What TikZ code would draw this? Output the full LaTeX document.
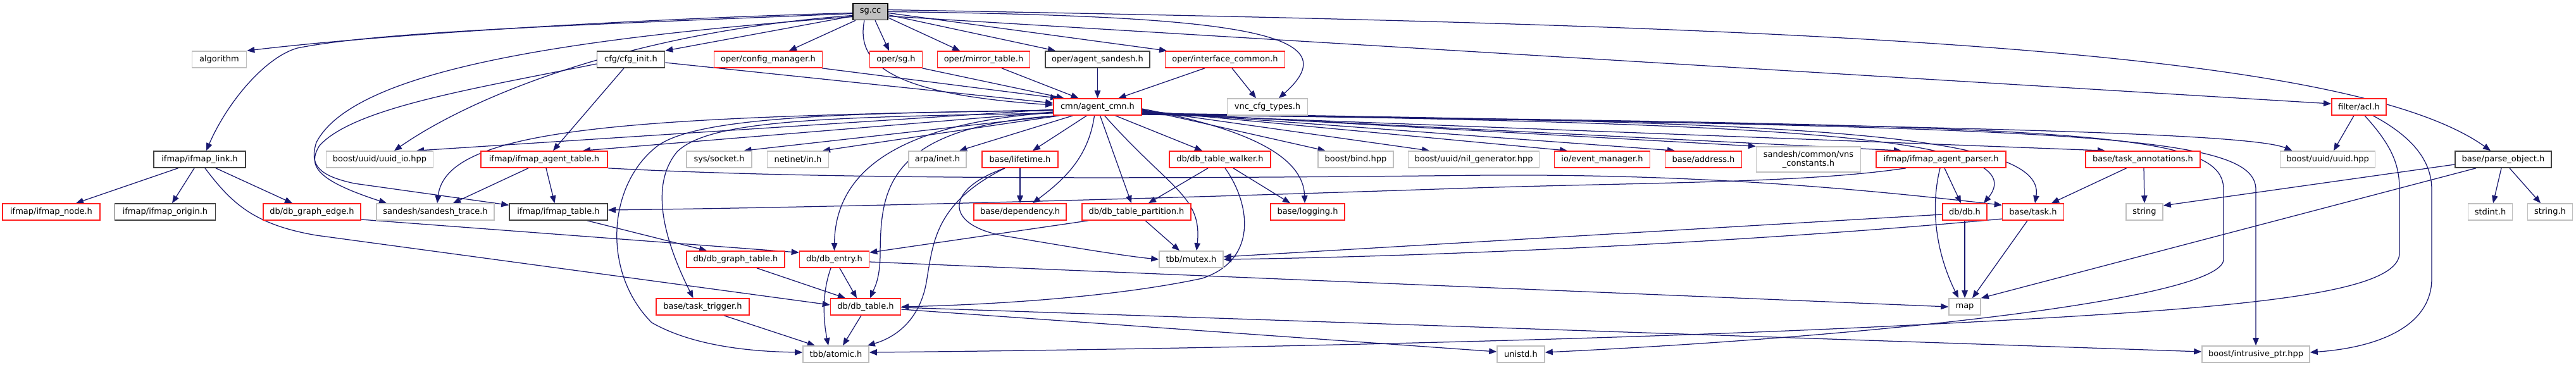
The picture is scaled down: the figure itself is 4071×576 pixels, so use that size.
\documentclass[tikz,border=0pt]{standalone}
\usepackage{fontspec}
\setmainfont{DejaVu Sans}
\usetikzlibrary{arrows.meta}
\definecolor{edgecol}{HTML}{191970}
\definecolor{grayb}{HTML}{BFBFBF}
\definecolor{redb}{HTML}{FF2020}
\definecolor{blackb}{HTML}{404040}
\pgfdeclarelayer{bg}
\pgfsetlayers{bg,main}
\begin{document}
\begin{tikzpicture}[x=1pt,y=-1pt,
 box/.style={draw, fill=white, inner sep=0pt, minimum height=26pt, line width=1.6pt, font=\fontsize{13}{14}\selectfont, text=black},
 rbox/.style={box, draw=redb},
 gbox/.style={box, draw=grayb},
 kbox/.style={box, draw=blackb},
 edge/.style={draw=edgecol, line width=1.25pt, -{Triangle[length=12pt,width=9.5pt]}}]
\useasboundingbox (0,0) rectangle (4071,576);
% row 1
\node[box, fill=grayb, draw=black, minimum width=55pt] (sg) at (1375.5,18.5) {sg.cc};
% row 2
\node[gbox, minimum width=86pt] (algorithm) at (346.5,94) {algorithm};
\node[kbox, minimum width=107pt] (cfginit) at (997,94) {cfg/cfg\_init.h};
\node[rbox, minimum width=171pt] (configmgr) at (1214,94) {oper/config\_manager.h};
\node[rbox, minimum width=83pt] (opersg) at (1416,94) {oper/sg.h};
\node[rbox, minimum width=146pt] (mirror) at (1554.5,94) {oper/mirror\_table.h};
\node[kbox, minimum width=165pt] (agentsandesh) at (1734.5,94) {oper/agent\_sandesh.h};
\node[rbox, minimum width=189pt] (intfcommon) at (1936,94) {oper/interface\_common.h};
% row 3
\node[rbox, minimum width=139pt] (cmn) at (1734.5,169) {cmn/agent\_cmn.h};
\node[gbox, minimum width=127pt] (vnc) at (2003,169) {vnc\_cfg\_types.h};
\node[rbox, minimum width=86.5pt] (acl) at (3728,169) {filter/acl.h};
% row 4
\node[kbox, minimum width=145pt] (ifmaplink) at (315.5,252) {ifmap/ifmap\_link.h};
\node[gbox, minimum width=169pt] (uuidio) at (600,252) {boost/uuid/uuid\_io.hpp};
\node[rbox, minimum width=200pt] (agenttable) at (860,252) {ifmap/ifmap\_agent\_table.h};
\node[gbox, minimum width=103pt] (socket) at (1136.5,252) {sys/socket.h};
\node[gbox, minimum width=97pt] (netinet) at (1261,252) {netinet/in.h};
\node[gbox, minimum width=91pt] (arpa) at (1481.5,252) {arpa/inet.h};
\node[rbox, minimum width=120pt] (lifetime) at (1612,252) {base/lifetime.h};
\node[rbox, minimum width=160pt] (walker) at (1928,252) {db/db\_table\_walker.h};
\node[gbox, minimum width=119pt] (bind) at (2142.5,252) {boost/bind.hpp};
\node[gbox, minimum width=207pt] (nilgen) at (2329,252) {boost/uuid/nil\_generator.hpp};
\node[rbox, minimum width=151pt] (eventmgr) at (2532,252) {io/event\_manager.h};
\node[rbox, minimum width=121pt] (address) at (2692,252) {base/address.h};
\node[gbox, minimum width=165pt, minimum height=40pt, align=center] (vnsconst) at (2858,252) {sandesh/common/vns\\\_constants.h};
\node[rbox, minimum width=205pt] (agentparser) at (3067.5,252) {ifmap/ifmap\_agent\_parser.h};
\node[rbox, minimum width=181pt] (taskannot) at (3386.5,252) {base/task\_annotations.h};
\node[gbox, minimum width=150pt] (uuidhpp) at (3678.5,252) {boost/uuid/uuid.hpp};
\node[kbox, minimum width=152pt] (parseobj) at (3956,252) {base/parse\_object.h};
% row 5
\node[rbox, minimum width=154pt] (ifmapnode) at (81,335) {ifmap/ifmap\_node.h};
\node[kbox, minimum width=159pt] (ifmaporigin) at (261,335) {ifmap/ifmap\_origin.h};
\node[rbox, minimum width=154pt] (graphedge) at (493,335) {db/db\_graph\_edge.h};
\node[gbox, minimum width=186pt] (sandeshtrace) at (688,335) {sandesh/sandesh\_trace.h};
\node[kbox, minimum width=155pt] (ifmaptable) at (882.5,335) {ifmap/ifmap\_table.h};
\node[rbox, minimum width=146pt] (dependency) at (1612,335) {base/dependency.h};
\node[rbox, minimum width=172pt] (partition) at (1796,335) {db/db\_table\_partition.h};
\node[rbox, minimum width=117pt] (logging) at (2066.5,335) {base/logging.h};
\node[rbox, minimum width=70pt] (dbh) at (3105,335) {db/db.h};
\node[rbox, minimum width=97pt] (taskh) at (3213,335) {base/task.h};
\node[gbox, minimum width=58pt] (string) at (3389,335) {string};
\node[gbox, minimum width=70pt] (stdint) at (3935.5,335) {stdint.h};
\node[gbox, minimum width=71pt] (stringh) at (4030,335) {string.h};
% row 6
\node[rbox, minimum width=155pt] (graphtable) at (1162.5,410) {db/db\_graph\_table.h};
\node[rbox, minimum width=110pt] (dbentry) at (1318.5,410) {db/db\_entry.h};
\node[gbox, minimum width=101pt] (mutex) at (1882.5,410) {tbb/mutex.h};
% row 7
\node[rbox, minimum width=147pt] (tasktrigger) at (1110.5,485) {base/task\_trigger.h};
\node[rbox, minimum width=111pt] (dbtable) at (1368,485) {db/db\_table.h};
\node[gbox, minimum width=50pt] (map) at (3105,485) {map};
% row 8
\node[gbox, minimum width=104pt] (atomic) at (1321,560) {tbb/atomic.h};
\node[gbox, minimum width=75pt] (unistd) at (2403.5,560) {unistd.h};
\node[gbox, minimum width=170pt] (intrusive) at (3565,560) {boost/intrusive\_ptr.hpp};

\begin{pgfonlayer}{bg}
\fill[white] (0,0) rectangle (4071,576);
% sg.cc
\draw[edge] ([yshift=-2pt]sg.west) .. controls (1000,30) and (600,55) .. (algorithm.north east);
\draw[edge] ([yshift=-3pt]sg.west) .. controls (900,40) and (600,50) .. (470,76) .. controls (420,90) and (360,160) .. ([xshift=10.5pt]ifmaplink.north);
\draw[edge] ([yshift=-7pt]sg.west) -- (cfginit.north east);
\draw[edge] ([xshift=-23.5pt]sg.south) -- ([xshift=33pt]configmgr.north);
\draw[edge] ([xshift=7.5pt]sg.south) -- ([xshift=-11pt]opersg.north);
\draw[edge] ([yshift=-9.5pt]sg.east) -- ([xshift=-37.5pt]mirror.north);
\draw[edge] ([yshift=-5pt]sg.east) -- ([xshift=-66.5pt]agentsandesh.north);
\draw[edge] ([yshift=-2pt]sg.east) -- ([xshift=-92pt]intfcommon.north);
\draw[edge] (sg.east) .. controls (1950,25) and (2140,50) .. ([xshift=18pt]vnc.north);
\draw[edge] ([xshift=-9.5pt]sg.south) .. controls (1350,110) and (1430,150) .. ([yshift=3pt]cmn.west);
\draw[edge] ([yshift=-6pt]sg.west) .. controls (1000,50) and (750,150) .. ([xshift=23pt]uuidio.north);
\draw[edge] ([yshift=-8pt]sg.west) .. controls (900,60) and (560,110) .. (500,225) .. controls (488,262) and (505,278) .. (560,290) -- ([yshift=-3pt]ifmaptable.north west);
\draw[edge] ([yshift=3pt]sg.east) .. controls (2800,40) and (3700,70) .. ([xshift=-20pt]parseobj.north);
\draw[edge] ([yshift=-7pt]sg.east) -- ([yshift=5pt]acl.west);
% cfg_init
\draw[edge] ([yshift=-5pt]cfginit.east) -- ([yshift=6pt]cmn.west);
\draw[edge] ([xshift=-11pt]cfginit.south) -- ([xshift=14pt]agenttable.north);
\draw[edge] ([yshift=-7pt]cfginit.west) .. controls (750,140) and (560,170) .. (505,230) .. controls (485,262) and (500,285) .. ([xshift=-77pt]sandeshtrace.north);
% into cmn
\draw[edge] ([xshift=85pt]configmgr.south) -- ([xshift=-62.5pt]cmn.north);
\draw[edge] ([xshift=41.5pt]opersg.south) -- ([xshift=-53pt]cmn.north);
\draw[edge] ([xshift=28.5pt]mirror.south) -- ([xshift=-30pt]cmn.north);
\draw[edge] (agentsandesh.south) -- (cmn.north);
\draw[edge] ([xshift=-32pt]intfcommon.south) -- ([xshift=33pt]cmn.north);
\draw[edge] ([xshift=11pt]intfcommon.south) -- ([xshift=-18pt]vnc.north);
% cmn left side
\draw[edge] ([yshift=-4pt]cmn.west) -- ([xshift=58pt]uuidio.north);
\draw[edge] ([yshift=-5pt]cmn.west) .. controls (1000,185) and (705,200) .. ([xshift=3pt]sandeshtrace.north);
\draw[edge] ([yshift=-8pt]cmn.west) -- ([xshift=61pt]agenttable.north);
\draw[edge] ([xshift=-65pt]cmn.south) -- ([xshift=39pt]socket.north);
\draw[edge] ([xshift=-60pt]cmn.south) -- ([xshift=39pt]netinet.north);
\draw[edge] ([xshift=-39pt]cmn.south) -- ([xshift=34.5pt]arpa.north);
\draw[edge] ([xshift=-17pt]cmn.south) -- ([xshift=20pt]lifetime.north);
\draw[edge] ([xshift=-5pt]cmn.south) .. controls (1720,250) and (1680,285) .. ([xshift=20pt]dependency.north);
\draw[edge] ([xshift=4pt]cmn.south) -- ([xshift=-8pt]partition.north);
\draw[edge] ([xshift=11pt]cmn.south) .. controls (1850,300) and (1900,310) .. ([xshift=8.5pt]mutex.north);
\draw[edge] ([xshift=28pt]cmn.south) -- ([xshift=-28pt]walker.north);
\draw[edge] ([yshift=-9pt]cmn.west) .. controls (1420,195) and (1320,270) .. (dbentry.north);
\draw[edge] ([xshift=-62pt]cmn.south) .. controls (1400,200) and (1392,300) .. (1391,400) .. controls (1391,440) and (1382,455) .. ([xshift=7pt]dbtable.north);
\draw[edge] ([yshift=-10pt]cmn.west) .. controls (1300,185) and (1120,190) .. (1070,240) .. controls (1020,300) and (1060,400) .. ([xshift=-15pt]tasktrigger.north);
\draw[edge] ([yshift=-6pt]cmn.west) .. controls (1300,178) and (1100,188) .. (1040,230) .. controls (960,290) and (950,430) .. (1030,510) .. controls (1100,550) and (1200,556) .. ([yshift=3pt]atomic.west);
% cmn right side
\draw[edge] ([yshift=-3pt]cmn.east) .. controls (1980,205) and (2060,250) .. ([xshift=-4.5pt]logging.north);
\draw[edge] ([yshift=-4pt]cmn.east) -- ([xshift=-48pt]bind.north);
\draw[edge] ([yshift=-5pt]cmn.east) -- ([xshift=-70pt]nilgen.north);
\draw[edge] ([yshift=-6pt]cmn.east) -- ([xshift=-55pt]eventmgr.north);
\draw[edge] ([yshift=-7pt]cmn.east) -- ([xshift=-45pt]address.north);
\draw[edge] ([yshift=-8pt]cmn.east) -- (vnsconst.north west);
\draw[edge] ([yshift=-9pt]cmn.east) -- ([xshift=-62.5pt]agentparser.north);
\draw[edge] ([yshift=-10pt]cmn.east) .. controls (2700,195) and (3230,205) .. ([xshift=30pt]dbh.north);
\draw[edge] ([yshift=-10pt]cmn.east) .. controls (2800,192) and (3235,205) .. ([xshift=3pt]taskh.north);
\draw[edge] ([yshift=-11pt]cmn.east) -- ([xshift=-59.5pt]taskannot.north);
\draw[edge] ([yshift=-11pt]cmn.east) .. controls (3000,198) and (3550,208) .. ([xshift=-56pt]uuidhpp.north);
\draw[edge] ([yshift=-12pt]cmn.east) .. controls (3300,200) and (3565,212) .. (3565,300) -- (intrusive.north);
\draw[edge] ([yshift=-12pt]cmn.east) .. controls (3300,198) and (3514,205) .. (3514,300) -- (3514,410) .. controls (3514,470) and (3000,530) .. ([yshift=3pt]unistd.east);
% acl
\draw[edge] ([xshift=-8pt]acl.south) -- ([xshift=9.5pt]uuidhpp.north);
\draw[edge] ([xshift=22pt]acl.south) .. controls (3820,220) and (3843,260) .. (3843,300) -- (3843,440) .. controls (3843,520) and (3750,550) .. ([yshift=3pt]intrusive.east);
\draw[edge] ([xshift=9pt]acl.south) .. controls (3780,230) and (3792,260) .. (3792,300) -- (3792,400) .. controls (3792,470) and (3500,490) .. (3000,515) .. controls (2500,540) and (1800,553) .. ([yshift=3pt]atomic.east);
% ifmap agent table
\draw[edge] ([xshift=-25pt]agenttable.south) -- ([xshift=28pt]sandeshtrace.north);
\draw[edge] ([xshift=3pt]agenttable.south) -- ([xshift=-6pt]ifmaptable.north);
\draw[edge] (agenttable.south east) .. controls (1300,284) and (1800,283) .. (2350,277) .. controls (2700,275) and (2950,300) .. ([yshift=-3pt]taskh.north west);
% lower part
\draw[edge] ([xshift=45.5pt]ifmaptable.south) -- ([xshift=-45.5pt]graphtable.north);
\draw[edge] ([xshift=33.5pt]graphtable.south) -- ([xshift=-32pt]dbtable.north);
\draw[edge] ([xshift=8.5pt]dbentry.south) -- ([xshift=-14pt]dbtable.north);
\draw[edge] ([xshift=-5.5pt]dbentry.south) .. controls (1300,460) and (1300,500) .. ([xshift=-12pt]atomic.north);
\draw[edge] ([xshift=-7pt]dbtable.south) -- ([xshift=11pt]atomic.north);
\draw[edge] ([xshift=33.5pt]tasktrigger.south) -- ([xshift=-33pt]atomic.north);
\draw[edge] ([xshift=-24pt]lifetime.south) .. controls (1480,320) and (1475,380) .. (1465,440) .. controls (1455,510) and (1410,535) .. ([xshift=-3pt]atomic.north east);
\draw[edge] ([xshift=-24pt]lifetime.south) .. controls (1490,300) and (1490,360) .. (1600,375) .. controls (1700,392) and (1780,405) .. (mutex.west);
\draw[edge] (lifetime.south) -- (dependency.north);
\draw[edge] ([xshift=-19pt]walker.south) -- ([xshift=19pt]partition.north);
\draw[edge] ([xshift=8pt]walker.south) .. controls (1975,320) and (1990,410) .. (1900,440) .. controls (1750,472) and (1550,482) .. (dbtable.east);
\draw[edge] ([xshift=21pt]walker.south) -- ([xshift=-27.5pt]logging.north);
\draw[edge] ([xshift=14pt]partition.south) -- ([xshift=-18.5pt]mutex.north);
\draw[edge] ([xshift=-76pt]partition.south) -- ([yshift=-3pt]dbentry.north east);
\draw[edge] ([yshift=-4pt]dbentry.east) -- (map.west);
\draw[edge] ([yshift=-4pt]dbtable.east) -- ([yshift=4pt]unistd.west);
\draw[edge] ([yshift=-1pt]dbtable.east) -- ([yshift=4pt]intrusive.west);
\draw[edge] ([yshift=-12pt]graphedge.east) -- ([yshift=-3pt]dbentry.north west);
% ifmap link
\draw[edge] ([xshift=8.5pt]ifmaplink.south) .. controls (365,320) and (400,355) .. (500,372) -- ([yshift=3pt]dbtable.west);
\draw[edge] ([xshift=-34pt]ifmaplink.south) -- ([xshift=39pt]ifmapnode.north);
\draw[edge] ([xshift=-8.5pt]ifmaplink.south) -- ([xshift=11pt]ifmaporigin.north);
\draw[edge] ([xshift=25.5pt]ifmaplink.south) -- ([xshift=-31pt]graphedge.north);
% agent parser
\draw[edge] ([xshift=-55.5pt]agentparser.south) .. controls (2850,290) and (2600,288) .. (2300,298) .. controls (1800,315) and (1300,328) .. ([yshift=3pt]ifmaptable.east);
\draw[edge] ([xshift=5.5pt]agentparser.south) -- ([xshift=-6pt]dbh.north);
\draw[edge] ([xshift=-1.5pt]agentparser.south) .. controls (3050,330) and (3060,400) .. ([xshift=-10pt]map.north);
\draw[edge] (dbh.south) -- (map.north);
\draw[edge] ([yshift=-4pt]dbh.west) -- ([yshift=4pt]mutex.east);
\draw[edge] ([yshift=-11pt]taskh.west) .. controls (2800,380) and (2300,405) .. (mutex.east);
\draw[edge] ([xshift=-9pt]taskh.south) -- ([xshift=12pt]map.north);
\draw[edge] ([xshift=-26pt]taskannot.south) -- ([xshift=29pt]taskh.north);
\draw[edge] ([xshift=1.5pt]taskannot.south) -- (string.north);
% parse object
\draw[edge] ([yshift=-8pt]parseobj.west) -- ([yshift=10pt]string.east);
\draw[edge] ([xshift=-43pt]parseobj.south) -- (map.north east);
\draw[edge] ([xshift=-3pt]parseobj.south) -- ([xshift=4.5pt]stdint.north);
\draw[edge] ([xshift=10pt]parseobj.south) -- ([xshift=-15pt]stringh.north);
\end{pgfonlayer}
\end{tikzpicture}
\end{document}
